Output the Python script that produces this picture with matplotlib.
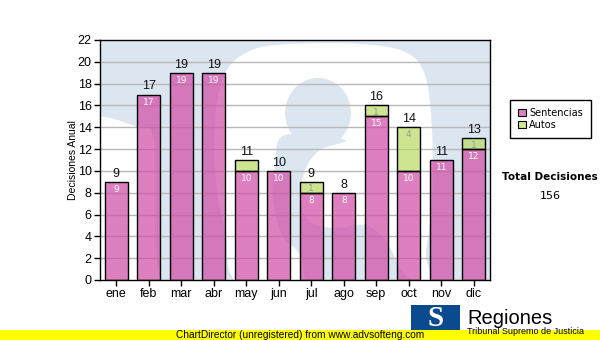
import numpy as np
import matplotlib
matplotlib.use("Agg")
import matplotlib.pyplot as plt
from matplotlib.patches import Polygon, Ellipse, Rectangle, Patch
from matplotlib.transforms import Affine2D

# monthly decisions
months = ["ene", "feb", "mar", "abr", "may", "jun", "jul", "ago", "sep", "oct", "nov", "dic"]
sentencias = [9, 17, 19, 19, 10, 10, 8, 8, 15, 10, 11, 12]
autos = [0, 0, 0, 0, 1, 0, 1, 0, 1, 4, 0, 1]
autos_text = ["", "", "", "", "", "", "1", "", "1", "4", "", "1"]
totals = [s + a for s, a in zip(sentencias, autos)]

W, H = 600, 340
pink = "#d14aa5"
green = "#b8db62"
bg_blue = "#dce6f0"
arial = "Liberation Sans"
verdana = "DejaVu Sans"


def fx(x):
    return x / W


def fy(y):
    return 1 - y / H


def closed_spline(pts, n=16):
    # Catmull-Rom through the points, closed
    pts = np.asarray(pts, dtype=float)
    out = []
    k = len(pts)
    for i in range(k):
        p0, p1, p2, p3 = pts[i - 1], pts[i], pts[(i + 1) % k], pts[(i + 2) % k]
        for t in np.linspace(0, 1, n, endpoint=False):
            t2, t3 = t * t, t * t * t
            out.append(0.5 * ((2 * p1) + (-p0 + p2) * t +
                              (2 * p0 - 5 * p1 + 4 * p2 - p3) * t2 +
                              (-p0 + 3 * p1 - 3 * p2 + p3) * t3))
    return np.array(out)


fig = plt.figure(figsize=(W / 100, H / 100), dpi=100)
ax = fig.add_axes([fx(100), fy(280), 390 / W, 240 / H])
ax.set_facecolor(bg_blue)

# big "S" watermark behind the bars, drawn in frame pixels (origin top-left)
frame = Affine2D().scale(1 / 390, -1 / 240).translate(0, 1) + ax.transAxes
left_white = [(-20, 92), (40, 87), (53, 96), (55, 130), (55, 200), (55, 270), (-20, 270)]
mid_white = [(150, 250), (125, 190), (115, 130), (116, 70), (127, 30), (152, 10), (190, 4),
             (260, 4), (305, 12), (325, 35), (332, 90), (332, 160), (326, 210), (314, 250)]
tail_blue = [(245, 100), (220, 110), (205, 130), (200, 160), (210, 182), (235, 188),
             (265, 185), (285, 200), (300, 228), (314, 255), (218, 255), (200, 215),
             (182, 195), (173, 160), (175, 125), (185, 95)]
for pts, col in [(left_white, "white"), (mid_white, "white"), (tail_blue, bg_blue)]:
    ax.add_patch(Polygon(closed_spline(pts), closed=True, fc=col, ec="none",
                         transform=frame, zorder=0.1))
ax.add_patch(Ellipse((218, 73), 66, 70, fc=bg_blue, ec="none", transform=frame, zorder=0.1))

# grid
for v in range(2, 22, 2):
    ax.axhline(v, color="#b8b8b8", lw=1, zorder=0.5)

x = np.arange(len(months))
ax.bar(x, sentencias, width=0.7, color=pink, alpha=0.7, edgecolor="none", zorder=2)
ax.bar(x, autos, width=0.7, bottom=sentencias, color=green, alpha=0.7,
       edgecolor="none", zorder=2)
# outlines drawn opaque on top
ax.bar(x, sentencias, width=0.7, fill=False, edgecolor="black", lw=1, zorder=3)
for i in range(len(months)):
    if autos[i] > 0:
        ax.bar(x[i], autos[i], width=0.7, bottom=sentencias[i], fill=False,
               edgecolor="black", lw=1, zorder=3)

for i in range(len(months)):
    ax.text(x[i], totals[i] + 0.2, str(totals[i]), ha="center", va="bottom",
            fontsize=9, family=arial, color="#111111", zorder=4)
    ax.text(x[i], sentencias[i] - 0.7, str(sentencias[i]), ha="center", va="center",
            fontsize=6.5, family=verdana, color="white", zorder=4)
    if autos_text[i]:
        ax.text(x[i], totals[i] - 0.65, autos_text[i], ha="center", va="center",
                fontsize=6.5, family=verdana, color="#999999", zorder=4)

ax.set_xlim(-0.5, 11.5)
ax.set_ylim(0, 22)
ax.set_yticks(range(0, 23, 2))
ax.set_xticks(x)
ax.set_xticklabels(months)
ax.tick_params(length=4, width=1, color="black", labelsize=9, pad=2)
for lab in ax.get_xticklabels() + ax.get_yticklabels():
    lab.set_family(arial)
for s in ax.spines.values():
    s.set_linewidth(1)
    s.set_zorder(5)

fig.text(fx(73), fy(160), "Decisiones Anual", rotation=90, ha="center", va="center",
         fontsize=7.5, family=arial)

# legend
leg = fig.legend(handles=[Patch(fc="#df80c0", ec="black", lw=0.8),
                          Patch(fc="#cfe697", ec="black", lw=0.8)],
                 labels=["Sentencias", "Autos"], loc="upper left",
                 bbox_to_anchor=(fx(510), fy(100)), fancybox=False, edgecolor="black",
                 framealpha=1, prop={"family": verdana, "size": 7}, handlelength=0.75,
                 handleheight=0.75, handletextpad=0.35, labelspacing=0.2,
                 borderpad=0.85, borderaxespad=0)
leg.get_frame().set_linewidth(1)

fig.text(fx(550), fy(177), "Total Decisiones", ha="center", va="center", fontsize=7.5,
         family=verdana, weight="bold")
fig.text(fx(550), fy(196), str(sum(totals)), ha="center", va="center", fontsize=8,
         family=verdana)

# footer strip and logo
fig.patches.append(Rectangle((0, 0), 1, 10.5 / H, transform=fig.transFigure,
                             fc="#ffff00", ec="none", zorder=2))
fig.text(fx(300), fy(335), "ChartDirector (unregistered) from www.advsofteng.com",
         ha="center", va="center", fontsize=7.3, family=arial, zorder=4)
fig.patches.append(Rectangle((fx(411), fy(330)), 49 / W, 25 / H, transform=fig.transFigure,
                             fc="#0b4a8e", ec="none", zorder=3))
fig.text(fx(436), fy(318), "S", ha="center", va="center", fontsize=21, weight="bold",
         family="Liberation Serif", color="white", zorder=4)
fig.text(fx(467), fy(324), "Regiones", ha="left", va="baseline", fontsize=14.5,
         family=arial, zorder=4)
fig.text(fx(467), fy(327.5), "Tribunal Supremo de Justicia", ha="left", va="top",
         fontsize=6.5, family=arial, zorder=4)

fig.savefig("out.png", dpi=100)
